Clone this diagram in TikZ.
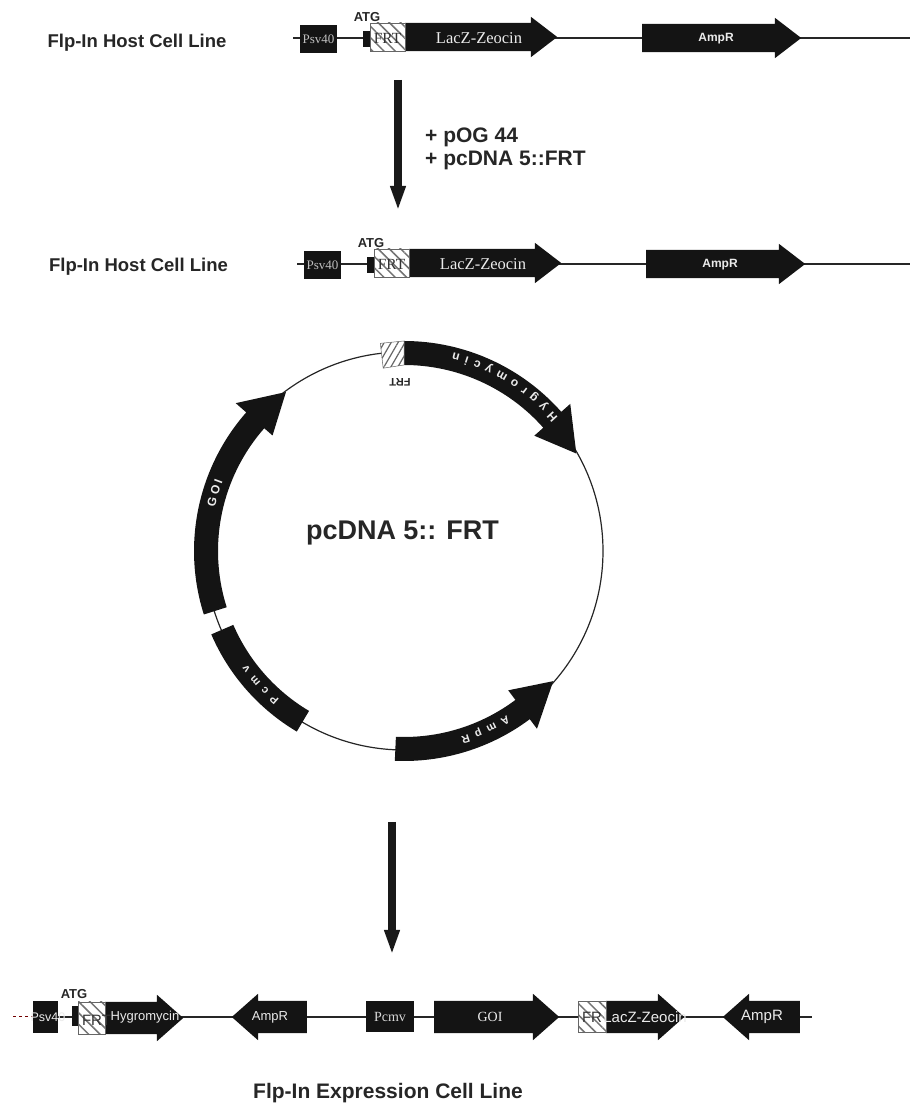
\documentclass[tikz,border=0pt]{standalone}
\usepackage{fontspec}
\setmainfont{Liberation Serif}
\setsansfont{Liberation Sans}
\usetikzlibrary{arrows.meta,shapes.arrows,patterns.meta,decorations.text}

\begin{document}
\begin{tikzpicture}[x=1pt, y=1pt,
    backbone/.style={line width=1.5pt, black!85},
    genebox/.style={fill=black!92, inner sep=0pt},
    genearrow/.style={single arrow, fill=black!92, inner sep=0pt, anchor=tail, single arrow head indent=0pt, text depth=0pt},
    toparrow/.style={genearrow, text height=28pt, single arrow head extend=6pt, single arrow tip angle=75},
    lowarrow/.style={genearrow, text height=32pt, single arrow head extend=7pt, single arrow tip angle=83},
    frtbox/.style={draw=black!60, line width=0.5pt, inner sep=0pt, pattern={Lines[angle=-45,distance=8pt,line width=1.5pt]}, pattern color=black!55},
    geneword/.style={text=black!8, inner sep=0pt},
    frtword/.style={text=black!80, inner sep=0pt},
    atgword/.style={font=\sffamily\bfseries\fontsize{13}{15}\selectfont, text=black!85, inner sep=0pt},
    stepword/.style={font=\sffamily\bfseries\fontsize{18.5}{21}\selectfont, text=black!85, inner sep=0pt},
    bigarrow/.style={line width=7.5pt, black!90, -{Triangle[length=25pt,width=14pt]}}]
  \useasboundingbox (0,0) rectangle (910,1104);

  \foreach \rowid/\dx/\dy/\linelast in {A/0/0/910, B/4/-226/906} {
    \begin{scope}[shift={(\dx,\dy)}]
      \coordinate (first\rowid) at (293,1066);
      \coordinate (last\rowid) at (\linelast,1066);
      \draw[backbone] (first\rowid) -- (last\rowid);
      \node[genebox, minimum width=37pt, minimum height=28pt, font=\fontsize{13}{15}\selectfont, text=black!25] (psv\rowid) at (318.5,1065) {Psv40};
      \node[genebox, minimum width=8pt, minimum height=16pt] (start\rowid) at (367,1065) {};
      \node[toparrow, minimum height=152pt] (lacz\rowid) at (405,1067) {};
      \node[toparrow, minimum height=159pt] (amp\rowid) at (642,1066) {};
      \node[frtbox, fill=white, minimum width=35pt, minimum height=28pt] (frtfill\rowid) at (387.5,1067) {};
      \node[frtbox, minimum width=35pt, minimum height=28pt] (frt\rowid) at (387.5,1067) {};
      \node[frtword, font=\fontsize{15.5}{17}\selectfont] (frtname\rowid) at (387.5,1065.5) {FRT};
      \node[geneword, font=\fontsize{16.5}{18}\selectfont] (laczname\rowid) at (479,1066) {LacZ-Zeocin};
      \node[geneword, font=\sffamily\bfseries\fontsize{12}{14}\selectfont] (ampname\rowid) at (716,1065.5) {AmpR};
      \node[atgword] (atg\rowid) at (367,1087) {ATG};
    \end{scope}
  }
  \node[stepword] (hostA) at (137,1061) {Flp-In Host Cell Line};
  \node[stepword] (hostB) at (138.5,837) {Flp-In Host Cell Line};

  \coordinate (arrowtopA) at (398,1024);
  \coordinate (arrowendA) at (398,893);
  \draw[bigarrow] (arrowtopA) -- (arrowendA);
  \node[stepword, align=left, anchor=west, font=\sffamily\bfseries\fontsize{21}{23}\selectfont] (inserts) at (425,955) {+ pOG 44\\+ pcDNA 5::FRT};

  \begin{scope}[shift={(404,553)}]
    \node[circle, draw=black!85, line width=1.2pt, minimum size=398pt, inner sep=0pt] (ring) at (0,0) {};
    \fill[black!92] (90:210) arc (90:41.5:210) -- (41.5:222) -- (29.5:198) -- (41.5:174) -- (41.5:186) arc (41.5:90:186) -- cycle;
    \fill[black!92] (197.6:186) arc (197.6:138.7:186) -- (138.7:175) -- (126.6:198) -- (138.7:224) -- (138.7:210) arc (138.7:197.6:210) -- cycle;
    \fill[black!92] (203.4:186) arc (203.4:239.3:186) -- (239.3:210) arc (239.3:203.4:210) -- cycle;
    \fill[black!92] (267.5:186) arc (267.5:306.8:186) -- (306.8:174) -- (318.9:198) -- (306.8:222) -- (306.8:210) arc (306.8:267.5:210) -- cycle;
    \path[fill=white] (90:186) -- (96.5:184) -- (96.5:209) -- (90:210) -- cycle;
    \path[draw=black!60, line width=0.5pt, pattern={Lines[angle=60,distance=6pt,line width=1.2pt]}, pattern color=black!60] (90:186) -- (96.5:184) -- (96.5:209) -- (90:210) -- cycle;
    \node[font=\sffamily\bfseries\fontsize{11}{12}\selectfont, text=black!85, rotate=180, inner sep=0pt] (frtring) at (-4,169) {FRT};
    \node[font=\sffamily\bfseries\fontsize{27}{30}\selectfont, text=black!85, inner sep=0pt] (plasmidname) at (-1.5,18) {pcDNA 5:: FRT};
    \path[decorate, decoration={text along path, text align={fit to path}, text={|\sffamily\bfseries\fontsize{12}{14}\selectfont\color{black!8}|Hygromycin}}] (41:204) arc (41:76:204);
    \path[decorate, decoration={text along path, text align={fit to path}, text={|\sffamily\bfseries\fontsize{12}{14}\selectfont\color{black!8}|GOI}}] (167:194) arc (167:159:194);
    \path[decorate, decoration={text along path, text align={fit to path}, text={|\sffamily\bfseries\fontsize{11}{13}\selectfont\color{black!8}|Pcmv}}] (230:194) arc (230:216:194);
    \path[decorate, decoration={text along path, text align={fit to path}, text={|\sffamily\bfseries\fontsize{11}{13}\selectfont\color{black!8}|AmpR}}] (302:194) arc (302:287:194);
  \end{scope}

  \coordinate (arrowtopB) at (392,282);
  \coordinate (arrowendB) at (392,149);
  \draw[bigarrow] (arrowtopB) -- (arrowendB);

  \coordinate (firstC) at (13,87);
  \coordinate (leftC) at (58,87);
  \coordinate (lastC) at (812,87);
  \draw[dashed, line width=1pt, red!45!black] (firstC) -- (leftC);
  \draw[backbone] (leftC) -- (lastC);
  \node[genebox, minimum width=25pt, minimum height=32pt] (psvC) at (45.5,87) {};
  \node[genebox, minimum width=6pt, minimum height=20pt] (startC) at (75,88) {};
  \node[lowarrow, minimum height=78pt] (hygroC) at (105,86) {};
  \node[frtbox, fill=white, minimum width=27pt, minimum height=32pt] (frtfillC) at (91.5,86) {};
  \node[frtbox, minimum width=27pt, minimum height=32pt] (frtC) at (91.5,86) {};
  \node[lowarrow, minimum height=75pt, shape border rotate=180] (ampleft) at (307,87) {};
  \node[genebox, minimum width=48pt, minimum height=31pt, font=\fontsize{14}{16}\selectfont, text=black!15] (pcmvC) at (390,87) {Pcmv};
  \node[lowarrow, minimum height=125pt] (goiC) at (434,87) {};
  \node[lowarrow, minimum height=78pt] (laczC) at (606,87) {};
  \node[frtbox, fill=white, minimum width=28pt, minimum height=31pt] (frtfillD) at (592,87) {};
  \node[frtbox, minimum width=28pt, minimum height=31pt] (frtD) at (592,87) {};
  \node[lowarrow, minimum height=77pt, shape border rotate=180] (ampright) at (800,87) {};
  \node[geneword, font=\sffamily\fontsize{12.5}{14}\selectfont] (psvname) at (48,87) {Psv40};
  \node[frtword, font=\sffamily\fontsize{15}{17}\selectfont] (frtnameC) at (96.5,84) {FRT};
  \node[geneword, font=\sffamily\fontsize{13}{15}\selectfont] (hygroname) at (145,87) {Hygromycin};
  \node[geneword, font=\sffamily\fontsize{13}{15}\selectfont] (ampnameleft) at (270,87) {AmpR};
  \node[geneword, font=\fontsize{14}{16}\selectfont] (goiname) at (490,87) {GOI};
  \node[frtword, font=\sffamily\fontsize{15}{17}\selectfont] (frtnameD) at (592,87) {FR};
  \node[geneword, font=\sffamily\fontsize{15}{17}\selectfont] (laczname) at (645,87) {LacZ-Zeocin};
  \node[geneword, font=\sffamily\fontsize{15}{17}\selectfont] (ampnameright) at (762,87) {AmpR};
  \node[atgword] (atgC) at (74,110) {ATG};
  \node[stepword, font=\sffamily\bfseries\fontsize{21}{23}\selectfont] (hostC) at (388,11) {Flp-In Expression Cell Line};
\end{tikzpicture}
\end{document}
